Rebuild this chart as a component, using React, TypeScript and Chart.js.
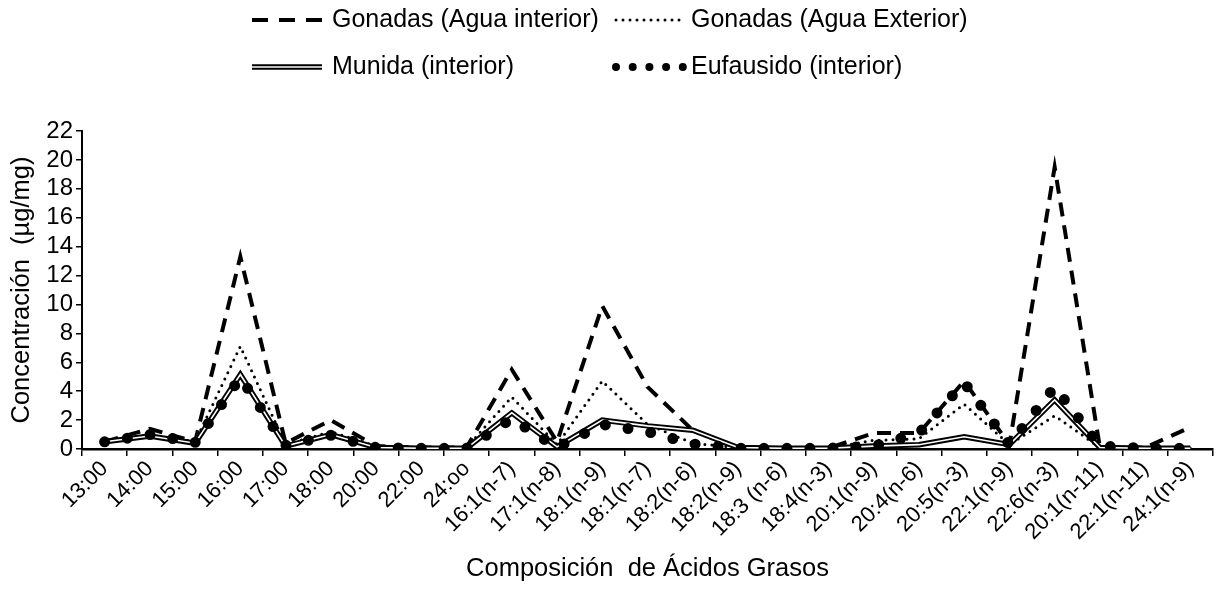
import React, { useEffect, useRef } from 'react';
import { Chart, registerables } from 'chart.js';

Chart.register(...registerables);

const S = 1; // horizontal stretch factor
const W = 1218;
const H = 609;
const LW = Math.round(W / S);
const FONT = '"Liberation Sans", Arial, Helvetica, sans-serif';
const FS = 25.5;

const categories = [
  '13:00', '14:00', '15:00', '16:00', '17:00', '18:00', '20:00', '22:00', '24:oo',
  '16:1(n-7)', '17:1(n-8)', '18:1(n-9)', '18:1(n-7)', '18:2(n-6)', '18:2(n-9)',
  '18:3 (n-6)', '18:4(n-3)', '20:1(n-9)', '20:4(n-6)', '20:5(n-3)', '22:1(n-9)',
  '22:6(n-3)', '20:1(n-11)', '22:1(n-11)', '24:1(n-9)',
];

const gonadasInterior = [0.5, 1.4, 0.5, 13.3, 0.4, 2.0, 0.2, 0.1, 0.1, 5.5, 0.5, 9.9, 4.3, 1.3, 0.1, 0.05, 0.05, 1.1, 1.1, 4.7, 0.3, 19.5, 0.1, 0.1, 1.5];
const gonadasExterior = [0.5, 1.0, 0.5, 7.1, 0.3, 1.2, 0.2, 0.1, 0.1, 3.6, 0.3, 4.7, 1.7, 0.4, 0.1, 0.05, 0.05, 0.6, 0.7, 3.1, 0.3, 2.3, 0.1, 0.05, 0.05];
const munida = [0.5, 0.9, 0.4, 5.15, 0.2, 1.0, 0.1, 0.05, 0.05, 2.5, 0.15, 2.0, 1.6, 1.3, 0.1, 0.05, 0.05, 0.2, 0.3, 0.85, 0.3, 3.4, 0.1, 0.05, 0.05];
const eufausido = [0.5, 1.0, 0.45, 4.95, 0.25, 0.95, 0.1, 0.05, 0.05, 2.1, 0.1, 1.7, 1.2, 0.35, 0.05, 0.05, 0.05, 0.2, 1.1, 4.6, 0.3, 4.3, 0.2, 0.05, 0.05];

const yTicks = { min: 0, max: 22, step: 2 };

const seriesNames = [
  'Gonadas (Agua interior)',
  'Gonadas (Agua Exterior)',
  'Munida (interior)',
  'Eufausido (interior)',
];

const legendPlugin = {
  id: 'customLegend',
  afterDraw(chart: any) {
    const ctx = chart.ctx as CanvasRenderingContext2D;
    const X = (x: number) => x / S;
    ctx.save();
    const line = (x1: number, x2: number, y: number, width: number, dash: number[], cap: CanvasLineCap, color = '#000') => {
      ctx.beginPath();
      ctx.lineWidth = width;
      ctx.strokeStyle = color;
      ctx.setLineDash(dash);
      ctx.lineCap = cap;
      ctx.moveTo(X(x1), y);
      ctx.lineTo(X(x2), y);
      ctx.stroke();
    };
    const r1 = 20;
    const r2 = 67;
    line(252, 322, r1, 4, [16, 11], 'butt');
    line(616, 682, r1, 3, [0, 7], 'round');
    line(252, 322, r2, 5.5, [], 'butt');
    line(252, 322, r2, 1.6, [], 'butt', '#fff');
    line(616, 683, r2, 8, [0, 16.7], 'round');
    ctx.setLineDash([]);
    ctx.fillStyle = '#000';
    ctx.font = `25px ${FONT}`;
    ctx.textBaseline = 'middle';
    ctx.textAlign = 'left';
    ctx.fillText(seriesNames[0], X(332), r1);
    ctx.fillText(seriesNames[1], X(691), r1);
    ctx.fillText(seriesNames[2], X(332), r2);
    ctx.fillText(seriesNames[3], X(691), r2);
    ctx.restore();
  },
};

export default function App() {
  const ref = useRef<HTMLCanvasElement | null>(null);

  useEffect(() => {
    document.body.style.margin = '0';
    const canvas = ref.current!;
    const common = { pointRadius: 0, pointHoverRadius: 0, fill: false, tension: 0 };
    const chart = new Chart(canvas, {
      type: 'line',
      data: {
        labels: categories,
        datasets: [
          {
            ...common,
            label: seriesNames[3],
            data: eufausido,
            borderColor: '#000',
            borderWidth: 11,
            borderDash: [0, 23],
            borderCapStyle: 'round',
            borderJoinStyle: 'round',
            order: 0,
          },
          {
            ...common,
            label: 'munida-inner',
            data: munida,
            borderColor: '#fff',
            borderWidth: 1.6,
            order: 1,
          },
          {
            ...common,
            label: seriesNames[2],
            data: munida,
            borderColor: '#000',
            borderWidth: 5.5,
            borderJoinStyle: 'miter',
            order: 2,
          },
          {
            ...common,
            label: seriesNames[1],
            data: gonadasExterior,
            borderColor: '#000',
            borderWidth: 3,
            borderDash: [0, 7],
            borderCapStyle: 'round',
            order: 3,
          },
          {
            ...common,
            label: seriesNames[0],
            data: gonadasInterior,
            borderColor: '#000',
            borderWidth: 4,
            borderDash: [14, 9],
            borderCapStyle: 'butt',
            order: 4,
          },
        ],
      } as any,
      options: {
        animation: false,
        responsive: false,
        devicePixelRatio: 1,
        events: [],
        layout: { padding: { top: 131, right: 5 / S, bottom: 0, left: 0 } },
        plugins: { legend: { display: false }, tooltip: { enabled: false } },
        scales: {
          x: {
            type: 'category',
            offset: true,
            grid: { offset: true, drawOnChartArea: false, drawTicks: true, tickLength: 7, color: '#000', lineWidth: 1.5 },
            border: { display: true, color: '#000', width: 2.5 },
            ticks: { autoSkip: false, maxRotation: 45, minRotation: 45, color: '#000', font: { family: FONT, size: 22 }, padding: 0 },
            title: { display: true, text: 'Composición  de Ácidos Grasos', color: '#000', font: { family: FONT, size: FS }, padding: { top: 0, bottom: 24.7 } },
            afterFit: (s: any) => { s.height = 160; },
          },
          y: {
            min: yTicks.min,
            max: yTicks.max,
            ticks: { stepSize: yTicks.step, autoSkip: false, color: '#000', font: { family: FONT, size: 24 }, padding: 3 },
            grid: { drawOnChartArea: false, drawTicks: true, tickLength: 6, color: '#000', lineWidth: 1.5 },
            border: { display: true, color: '#000', width: 2 },
            title: { display: true, text: 'Concentración  (µg/mg)', color: '#000', font: { family: FONT, size: FS }, padding: { top: 6.7, bottom: 0 } },
            afterFit: (s: any) => { s.width = 82 / S; },
          },
        },
      } as any,
      plugins: [legendPlugin],
    });
    return () => chart.destroy();
  }, []);

  return (
    <div style={{ width: W, height: H, background: '#fff' }}>
      <canvas ref={ref} width={LW} height={H} style={{ width: `${W}px`, height: `${H}px`, display: 'block' }} />
    </div>
  );
}
